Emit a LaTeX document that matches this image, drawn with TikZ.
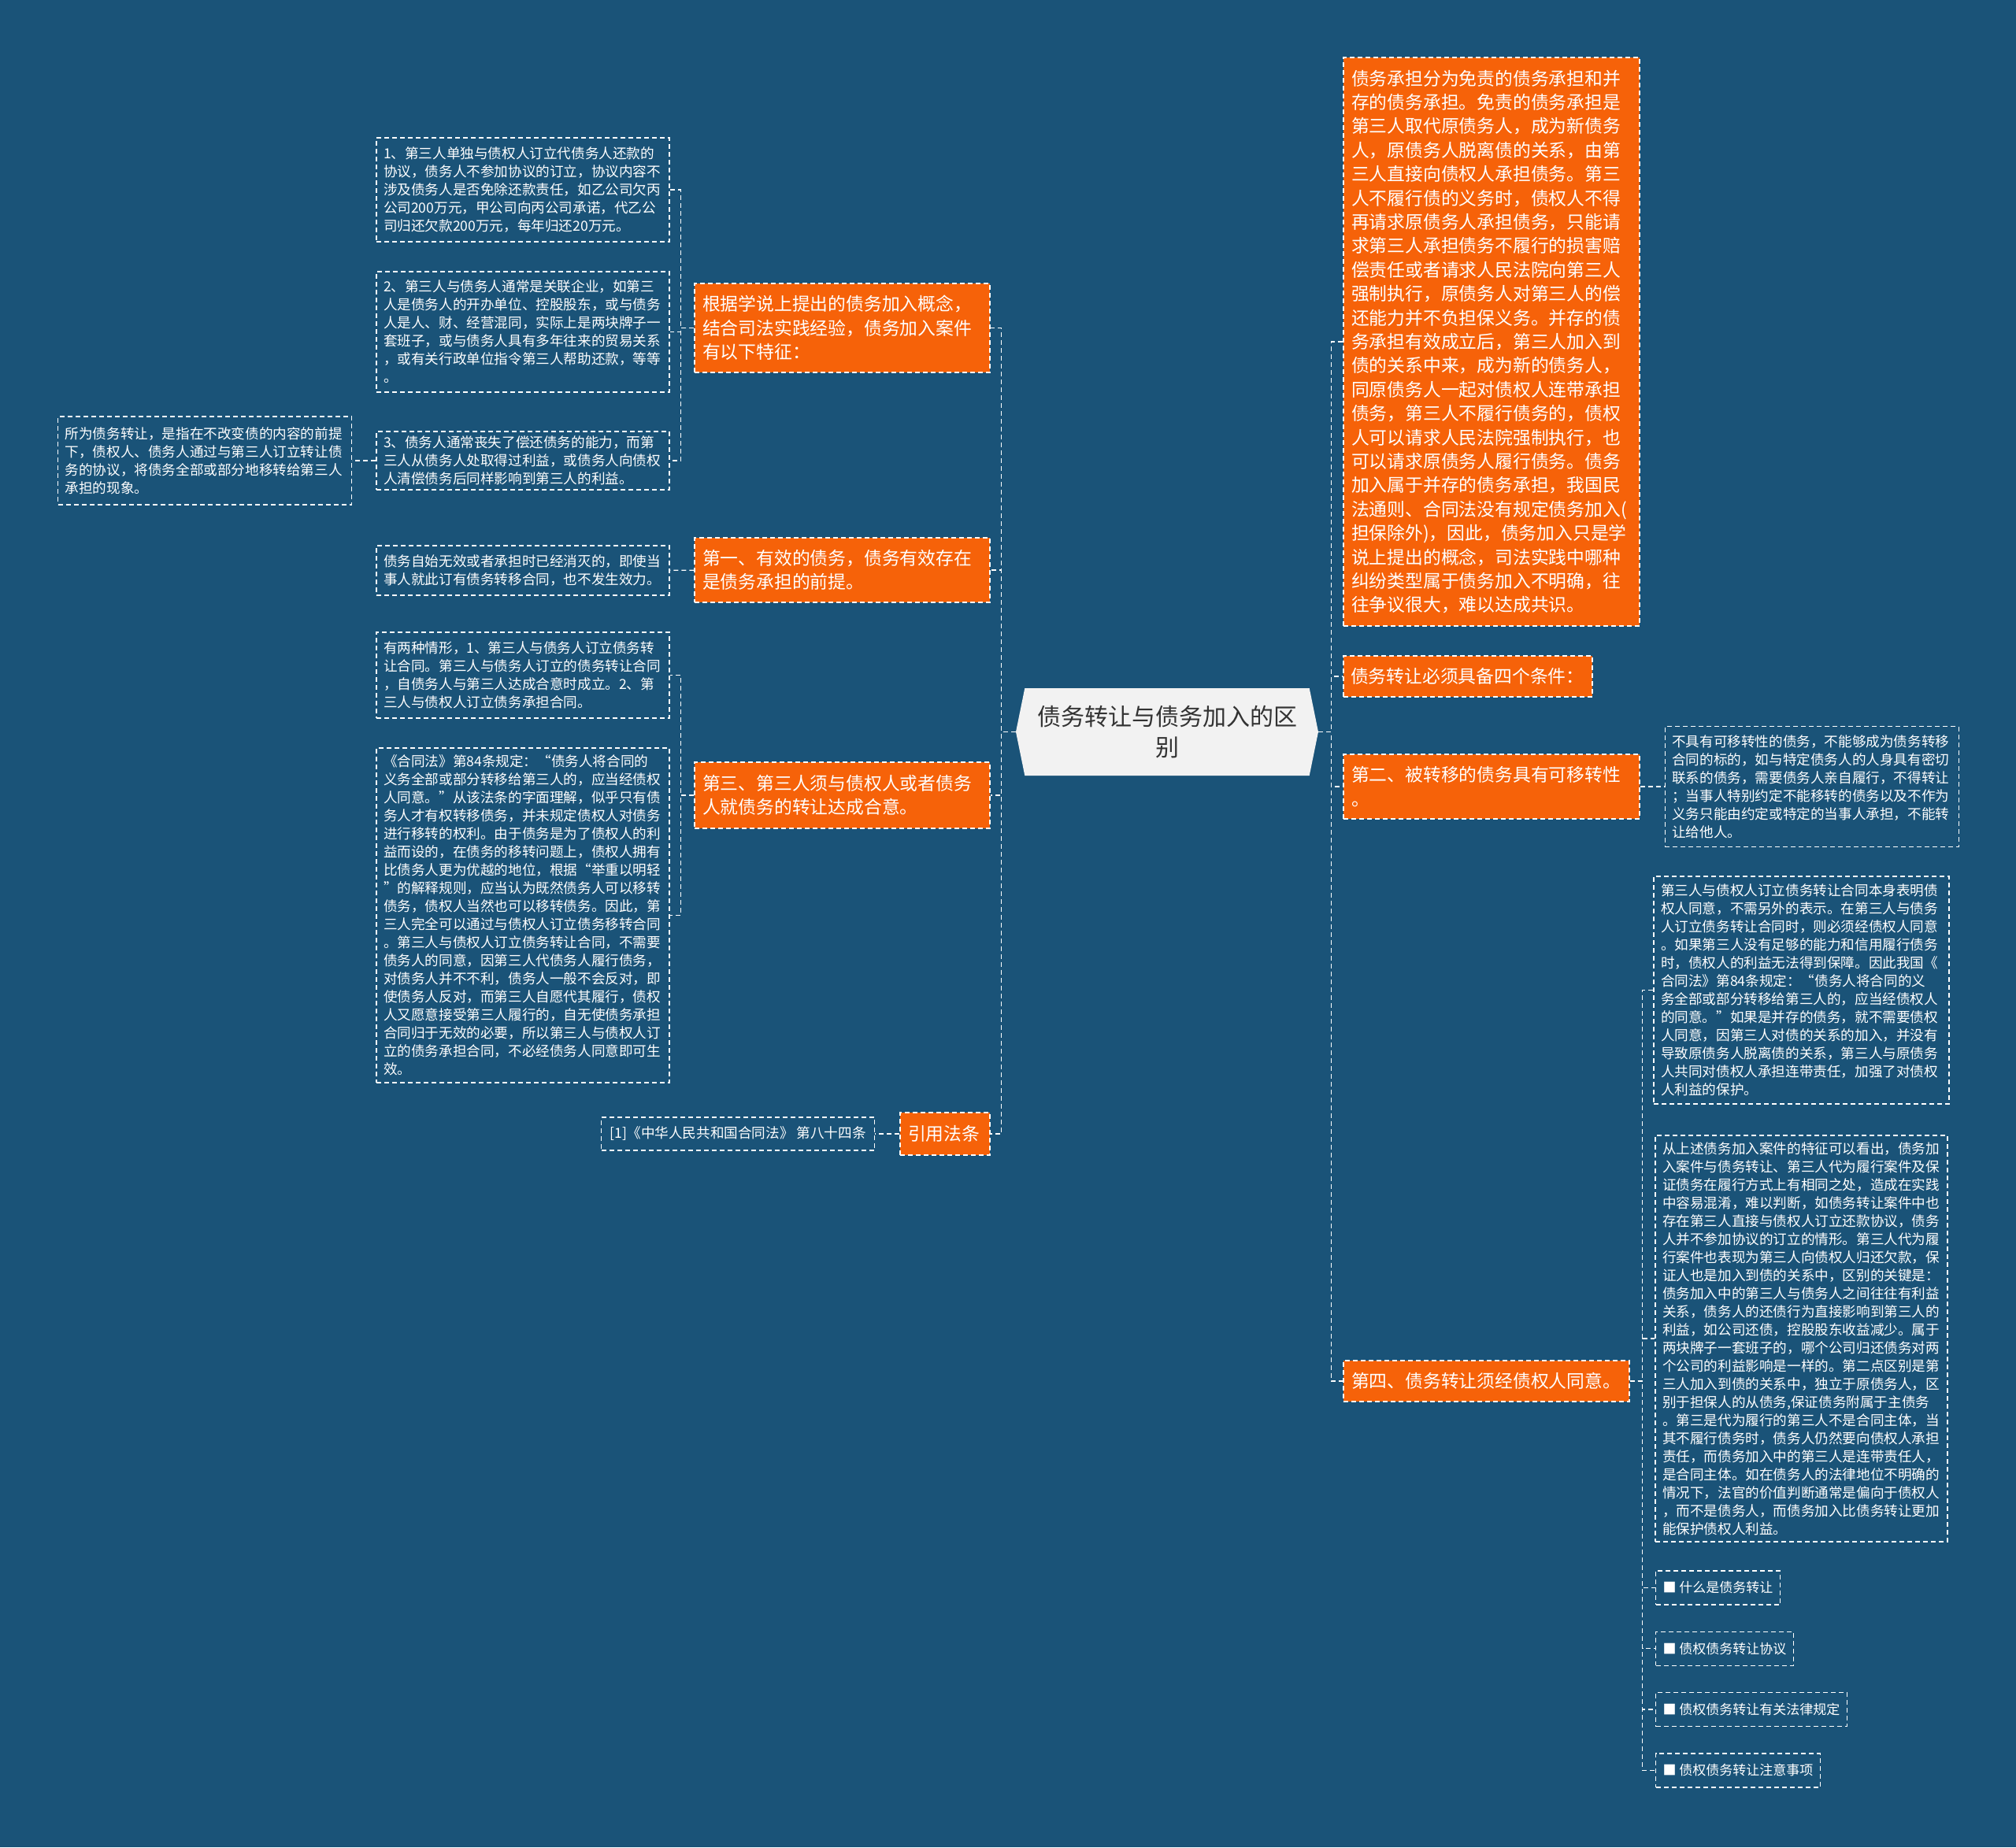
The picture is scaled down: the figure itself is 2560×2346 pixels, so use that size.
\documentclass[tikz,border=0pt]{standalone}
\usepackage{fontspec}
\setmainfont{Noto Sans CJK SC}
\usepackage{tikz}
\usetikzlibrary{shapes.symbols, positioning}
\definecolor{bgblue}{HTML}{1A5378}
\definecolor{myorange}{HTML}{F66209}
\definecolor{rootgray}{HTML}{F2F2F2}
\definecolor{roottext}{HTML}{333333}
\newcommand{\topicfont}{\fontsize{22.8pt}{30.4pt}\selectfont}
\newcommand{\detailfont}{\fontsize{17.6pt}{23pt}\selectfont}
\newcommand{\itemfont}{\fontsize{17pt}{22pt}\selectfont}

\begin{document}
\begin{tikzpicture}[x=1pt, y=-1pt,
  root/.style={signal, signal to=west and east, signal pointer angle=157, fill=rootgray, text=roottext, font=\fontsize{30pt}{39pt}\selectfont, align=center, minimum width=384pt, minimum height=111pt, inner sep=0pt},
  topic/.style={rectangle, draw=white, dash pattern=on 6pt off 4pt, line width=1.3pt, fill=myorange, text=white, font=\topicfont, align=left, inner xsep=10pt, inner ysep=0pt},
  detail/.style={rectangle, draw=white, dash pattern=on 6pt off 4pt, line width=1.3pt, text=white, font=\detailfont, align=left, inner xsep=9pt, inner ysep=0pt},
  bullet/.style={detail, font=\itemfont, minimum height=43pt},
  link/.style={draw=white, dash pattern=on 6pt off 4pt, line width=1.3pt},
]
\fill[bgblue] (0,0) rectangle (2560,2346);

\node[root] (root) at (1482,929.5) {债务转让与债务加入的区\\别};

% left branches
\node[topic, text width=355pt, minimum height=113pt] (feat) at (1069.5,416.5) {根据学说上提出的债务加入概念，\\结合司法实践经验，债务加入案件\\有以下特征：};
\node[topic, text width=355pt, minimum height=82pt] (first) at (1069.5,724) {第一、有效的债务，债务有效存在\\是债务承担的前提。};
\node[topic, text width=355pt, minimum height=84pt] (third) at (1069.5,1010) {第三、第三人须与债权人或者债务\\人就债务的转让达成合意。};
\node[topic, text width=94pt, minimum height=54pt] (cite) at (1200,1440) {引用法条};

\node[detail, text width=354pt, minimum height=132pt] (d1a) at (664,241) {1、第三人单独与债权人订立代债务人还款的\\协议，债务人不参加协议的订立，协议内容不\\涉及债务人是否免除还款责任，如乙公司欠丙\\公司200万元，甲公司向丙公司承诺，代乙公\\司归还欠款200万元，每年归还20万元。};
\node[detail, text width=354pt, minimum height=153pt] (d1b) at (664,421.5) {2、第三人与债务人通常是关联企业，如第三\\人是债务人的开办单位、控股股东，或与债务\\人是人、财、经营混同，实际上是两块牌子一\\套班子，或与债务人具有多年往来的贸易关系\\，或有关行政单位指令第三人帮助还款，等等\\。};
\node[detail, text width=354pt, minimum height=74pt] (d1c) at (664,585) {3、债务人通常丧失了偿还债务的能力，而第\\三人从债务人处取得过利益，或债务人向债权\\人清偿债务后同样影响到第三人的利益。};
\node[detail, text width=355pt, minimum height=112pt, left=30pt of d1c] (d0) {所为债务转让，是指在不改变债的内容的前提\\下，债权人、债务人通过与第三人订立转让债\\务的协议，将债务全部或部分地移转给第三人\\承担的现象。};
\node[detail, text width=354pt, minimum height=63pt] (d2) at (664,724.5) {债务自始无效或者承担时已经消灭的，即使当\\事人就此订有债务转移合同，也不发生效力。};
\node[detail, text width=354pt, minimum height=109pt] (d3a) at (664,857.5) {有两种情形，1、第三人与债务人订立债务转\\让合同。第三人与债务人订立的债务转让合同\\，自债务人与第三人达成合意时成立。2、第\\三人与债权人订立债务承担合同。};
\node[detail, text width=354pt, minimum height=425pt] (d3b) at (664,1162.5) {《合同法》第84条规定：“债务人将合同的\\义务全部或部分转移给第三人的，应当经债权\\人同意。”从该法条的字面理解，似乎只有债\\务人才有权转移债务，并未规定债权人对债务\\进行移转的权利。由于债务是为了债权人的利\\益而设的，在债务的移转问题上，债权人拥有\\比债务人更为优越的地位，根据“举重以明轻\\”的解释规则，应当认为既然债务人可以移转\\债务，债权人当然也可以移转债务。因此，第\\三人完全可以通过与债权人订立债务移转合同\\。第三人与债权人订立债务转让合同，不需要\\债务人的同意，因第三人代债务人履行债务，\\对债务人并不不利，债务人一般不会反对，即\\使债务人反对，而第三人自愿代其履行，债权\\人又愿意接受第三人履行的，自无使债务承担\\合同归于无效的必要，所以第三人与债权人订\\立的债务承担合同，不必经债务人同意即可生\\效。};
\node[detail, minimum width=347pt, minimum height=42pt, left=31pt of cite] (law) {[1]《中华人民共和国合同法》 第八十四条};

% right branches
\node[topic, text width=356pt, minimum height=722pt] (undertake) at (1894,434) {债务承担分为免责的债务承担和并\\存的债务承担。免责的债务承担是\\第三人取代原债务人，成为新债务\\人，原债务人脱离债的关系，由第\\三人直接向债权人承担债务。第三\\人不履行债的义务时，债权人不得\\再请求原债务人承担债务，只能请\\求第三人承担债务不履行的损害赔\\偿责任或者请求人民法院向第三人\\强制执行，原债务人对第三人的偿\\还能力并不负担保义务。并存的债\\务承担有效成立后，第三人加入到\\债的关系中来，成为新的债务人，\\同原债务人一起对债权人连带承担\\债务，第三人不履行债务的，债权\\人可以请求人民法院强制执行，也\\可以请求原债务人履行债务。债务\\加入属于并存的债务承担，我国民\\法通则、合同法没有规定债务加入(\\担保除外)，因此，债务加入只是学\\说上提出的概念，司法实践中哪种\\纠纷类型属于债务加入不明确，往\\往争议很大，难以达成共识。};
\node[topic, text width=298pt, inner xsep=9pt, minimum height=52pt] (four) at (1864,859) {债务转让必须具备四个条件：};
\node[topic, text width=356pt, minimum height=82pt] (second) at (1894,999) {第二、被转移的债务具有可移转性\\。};
\node[topic, text width=343pt, minimum height=52pt] (fourth) at (1887.5,1754) {第四、债务转让须经债权人同意。};

\node[detail, text width=355pt, minimum height=153pt, right=31pt of second] (nontrans) {不具有可移转性的债务，不能够成为债务转移\\合同的标的，如与特定债务人的人身具有密切\\联系的债务，需要债务人亲自履行，不得转让\\；当事人特别约定不能移转的债务以及不作为\\义务只能由约定或特定的当事人承担，不能转\\让给他人。};
\node[detail, text width=357pt, minimum height=289pt] (consent) at (2287.5,1257.5) {第三人与债权人订立债务转让合同本身表明债\\权人同意，不需另外的表示。在第三人与债务\\人订立债务转让合同时，则必须经债权人同意\\。如果第三人没有足够的能力和信用履行债务\\时，债权人的利益无法得到保障。因此我国《\\合同法》第84条规定：“债务人将合同的义\\务全部或部分转移给第三人的，应当经债权人\\的同意。”如果是并存的债务，就不需要债权\\人同意，因第三人对债的关系的加入，并没有\\导致原债务人脱离债的关系，第三人与原债务\\人共同对债权人承担连带责任，加强了对债权\\人利益的保护。};
\node[detail, text width=353pt, minimum height=516pt] (compare) at (2287.5,1700) {从上述债务加入案件的特征可以看出，债务加\\入案件与债务转让、第三人代为履行案件及保\\证债务在履行方式上有相同之处，造成在实践\\中容易混淆，难以判断，如债务转让案件中也\\存在第三人直接与债权人订立还款协议，债务\\人并不参加协议的订立的情形。第三人代为履\\行案件也表现为第三人向债权人归还欠款，保\\证人也是加入到债的关系中，区别的关键是：\\债务加入中的第三人与债务人之间往往有利益\\关系，债务人的还债行为直接影响到第三人的\\利益，如公司还债，控股股东收益减少。属于\\两块牌子一套班子的，哪个公司归还债务对两\\个公司的利益影响是一样的。第二点区别是第\\三人加入到债的关系中，独立于原债务人，区\\别于担保人的从债务,保证债务附属于主债务\\。第三是代为履行的第三人不是合同主体，当\\其不履行债务时，债务人仍然要向债权人承担\\责任，而债务加入中的第三人是连带责任人，\\是合同主体。如在债务人的法律地位不明确的\\情况下，法官的价值判断通常是偏向于债权人\\，而不是债务人，而债务加入比债务转让更加\\能保护债权人利益。};
\node[bullet, anchor=west] (item1) at (2102,2016.5) {■ 什么是债务转让};
\node[bullet, below right=33pt and 0pt of item1.south west] (item2) {■ 债权债务转让协议};
\node[bullet, below right=33pt and 0pt of item2.south west] (item3) {■ 债权债务转让有关法律规定};
\node[bullet, below right=33pt and 0pt of item3.south west] (item4) {■ 债权债务转让注意事项};

% connectors
\draw[link] (root.west) -- ++(-18pt,0pt) |- (feat.east);
\draw[link] (root.west) -- ++(-18pt,0pt) |- (first.east);
\draw[link] (root.west) -- ++(-18pt,0pt) |- (third.east);
\draw[link] (root.west) -- ++(-18pt,0pt) |- (cite.east);
\draw[link] (feat.west) -- ++(-17pt,0pt) |- (d1a.east);
\draw[link] (feat.west) -- ++(-17pt,0pt) |- (d1b.east);
\draw[link] (feat.west) -- ++(-17pt,0pt) |- (d1c.east);
\draw[link] (d1c) -- (d0);
\draw[link] (first) -- (d2);
\draw[link] (third.west) -- ++(-17pt,0pt) |- (d3a.east);
\draw[link] (third.west) -- ++(-17pt,0pt) |- (d3b.east);
\draw[link] (cite) -- (law);

\draw[link] (root.east) -- ++(16pt,0pt) |- (undertake.west);
\draw[link] (root.east) -- ++(16pt,0pt) |- (four.west);
\draw[link] (root.east) -- ++(16pt,0pt) |- (second.west);
\draw[link] (root.east) -- ++(16pt,0pt) |- (fourth.west);
\draw[link] (second) -- (nontrans);
\draw[link] (fourth.east) -- ++(16pt,0pt) |- (consent.west);
\draw[link] (fourth.east) -- ++(16pt,0pt) |- (compare.west);
\draw[link] (fourth.east) -- ++(16pt,0pt) |- (item1.west);
\draw[link] (fourth.east) -- ++(16pt,0pt) |- (item2.west);
\draw[link] (fourth.east) -- ++(16pt,0pt) |- (item3.west);
\draw[link] (fourth.east) -- ++(16pt,0pt) |- (item4.west);
\end{tikzpicture}
\end{document}
